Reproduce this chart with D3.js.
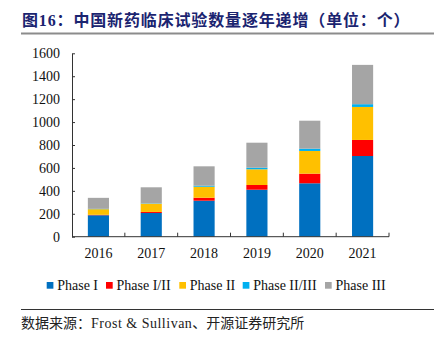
<!DOCTYPE html>
<html>
<head>
<meta charset="utf-8">
<script src="https://cdn.jsdelivr.net/npm/d3@7"></script>
<style>
  body { margin: 0; background: #fff; }
  svg { display: block; }
</style>
</head>
<body>
<div id="chart"></div>
<script>
// data
const years = ["2016", "2017", "2018", "2019", "2020", "2021"];
const phaseNames = ["Phase I", "Phase I/II", "Phase II", "Phase II/III", "Phase III"];
const phase1 = [187, 207, 314, 410, 466, 704];
const phase12 = [4, 9, 26, 41, 84, 140];
const phase2 = [49, 72, 96, 137, 198, 288];
const phase23 = [3, 3, 9, 14, 20, 24];
const phase3 = [96, 140, 169, 218, 244, 343];
const yTicks = [0, 200, 400, 600, 800, 1000, 1200, 1400, 1600];
const colors = ["#0070C0", "#FF0000", "#FFC000", "#00B0F0", "#A5A5A5"];

const width = 434, height = 339;
const serif = "'Liberation Serif', 'Times New Roman', serif";
const cjk = "'Noto Sans CJK SC', sans-serif";

const svg = d3.select("#chart").append("svg")
  .attr("width", width)
  .attr("height", height);

// title + rule under it
const title = svg.append("text")
  .attr("x", 22)
  .attr("y", 25.5)
  .attr("fill", "#1b2470")
  .style("font-family", cjk)
  .style("font-weight", "bold")
  .style("font-size", "16px")
  .style("letter-spacing", "0.85px");
title.append("tspan").text("图");
title.append("tspan").style("font-family", serif).text("16");
title.append("tspan").text("：中国新药临床试验数量逐年递增（单位：个）");

svg.append("line")
  .attr("x1", 21).attr("x2", 434)
  .attr("y1", 33.5).attr("y2", 33.5)
  .attr("stroke", "#8c8c8c")
  .attr("stroke-width", 2);

// table for stacking
const table = years.map((y, i) => ({
  year: y,
  "Phase I": phase1[i],
  "Phase I/II": phase12[i],
  "Phase II": phase2[i],
  "Phase II/III": phase23[i],
  "Phase III": phase3[i]
}));
const stacked = d3.stack().keys(phaseNames)(table);

const x = d3.scaleBand().domain(years).range([72, 389]).paddingInner(0.6).paddingOuter(0.3);
const y = d3.scaleLinear().domain([0, 1600]).range([236.7, 53.3]);

// bars
svg.append("g")
  .selectAll("g")
  .data(stacked)
  .join("g")
  .attr("fill", (d, i) => colors[i])
  .selectAll("rect")
  .data(d => d)
  .join("rect")
  .attr("x", d => x(d.data.year))
  .attr("width", x.bandwidth())
  .attr("y", d => y(d[1]))
  .attr("height", d => y(d[0]) - y(d[1]));

// y axis, ticks pointing inward
const yAxis = svg.append("g")
  .attr("transform", "translate(72,0)")
  .call(d3.axisRight(y).tickValues(yTicks).tickSize(3).tickSizeOuter(0).tickFormat(d3.format("d")));
yAxis.select(".domain").attr("stroke", "#333");
yAxis.selectAll(".tick line").attr("stroke", "#333");
yAxis.selectAll(".tick text")
  .attr("x", -12)
  .attr("text-anchor", "end")
  .attr("fill", "#111")
  .style("font-family", serif)
  .style("font-size", "14px");

// x axis: ticks at the category boundaries, pointing up
const xAxis = svg.append("g")
  .attr("transform", "translate(0,236.7)");
xAxis.append("line")
  .attr("x1", 72).attr("x2", 389)
  .attr("stroke", "#333");
const step = x.step();
xAxis.selectAll(".bound")
  .data(years)
  .join("line")
  .attr("class", "bound")
  .attr("x1", (d, i) => 72 + step * (i + 1))
  .attr("x2", (d, i) => 72 + step * (i + 1))
  .attr("y1", 0).attr("y2", -4)
  .attr("stroke", "#333");
xAxis.selectAll(".lbl")
  .data(years)
  .join("text")
  .attr("class", "lbl")
  .attr("x", d => x(d) + x.bandwidth() / 2)
  .attr("y", 21.5)
  .attr("text-anchor", "middle")
  .attr("fill", "#111")
  .style("font-family", serif)
  .style("font-size", "14px")
  .text(d => d);

// legend
const legendX = [46.7, 106, 179.3, 242.7, 325];
const legend = svg.append("g")
  .selectAll("g")
  .data(phaseNames)
  .join("g")
  .attr("transform", (d, i) => `translate(${legendX[i]},289.5)`);
legend.append("rect")
  .attr("x", 0).attr("y", -7.5)
  .attr("width", 6.7).attr("height", 6.7)
  .attr("fill", (d, i) => colors[i]);
legend.append("text")
  .attr("x", 10.5)
  .attr("y", 0)
  .attr("fill", "#111")
  .style("font-family", serif)
  .style("font-size", "14px")
  .text(d => d);

// source footer
svg.append("line")
  .attr("x1", 21).attr("x2", 434)
  .attr("y1", 309.5).attr("y2", 309.5)
  .attr("stroke", "#333")
  .attr("stroke-width", 1);

const foot = svg.append("text")
  .attr("x", 21)
  .attr("y", 327.5)
  .attr("fill", "#222")
  .style("font-size", "14px");
foot.append("tspan").style("font-family", cjk).text("数据来源：");
foot.append("tspan").style("font-family", serif).style("letter-spacing", "0.5px").text("Frost & Sullivan");
foot.append("tspan").style("font-family", cjk).text("、开源证券研究所");
</script>
</body>
</html>
